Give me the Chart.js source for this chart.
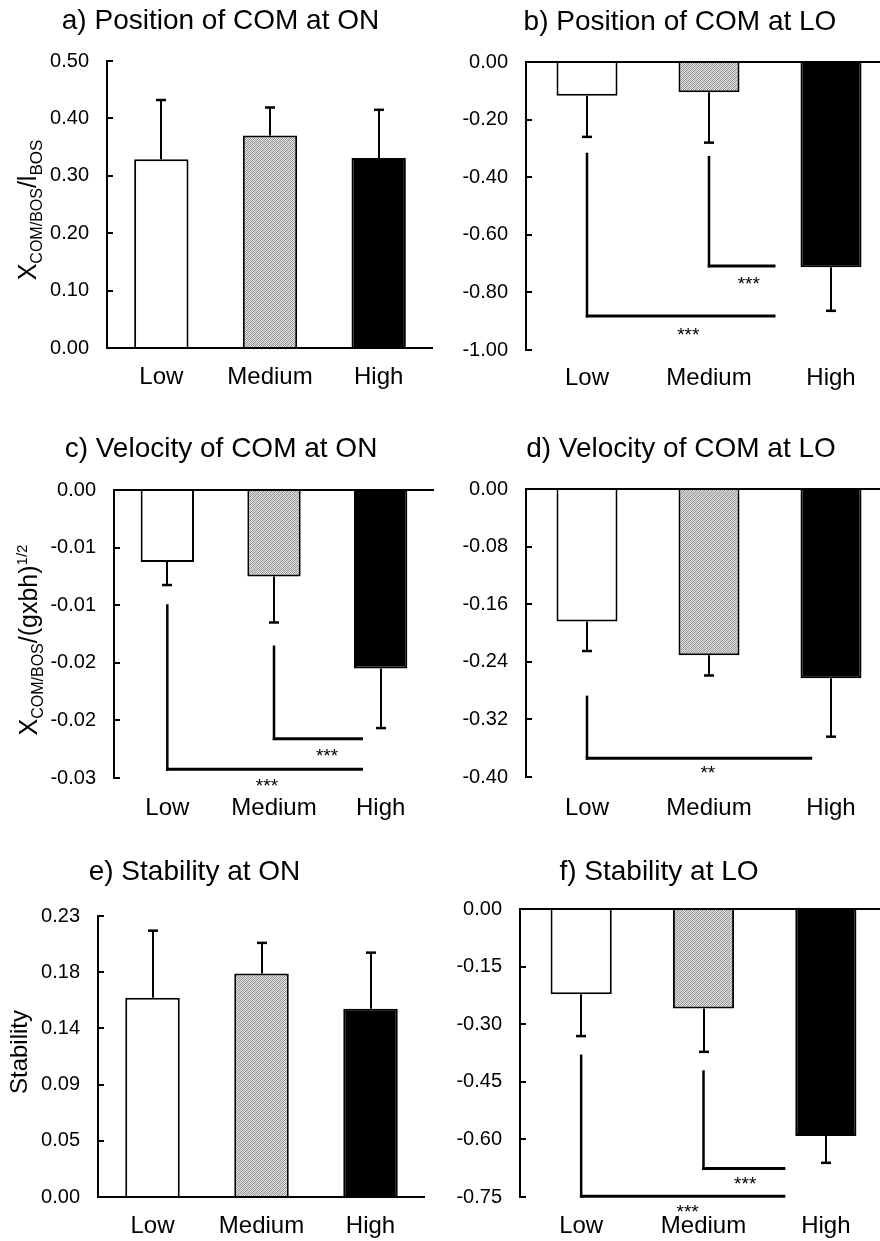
<!DOCTYPE html>
<html><head><meta charset="utf-8">
<script src="https://cdn.jsdelivr.net/npm/chart.js@4/dist/chart.umd.min.js"></script>
<style>
html,body{margin:0;padding:0;background:#fff;overflow:hidden;width:880px;height:1241px;position:relative}
canvas{position:absolute;display:block}
</style></head><body>
<canvas id="ca"></canvas><canvas id="cb"></canvas><canvas id="cc"></canvas>
<canvas id="cd"></canvas><canvas id="ce"></canvas><canvas id="cf"></canvas>
<script>
// ---------------- DATA ----------------
const categories = ['Low', 'Medium', 'High'];

// a) Position of COM at ON
const posON_mean = [0.329, 0.370, 0.331];
const posON_sd = [0.103, 0.049, 0.084];
const posON_ticks = [0, 0.1, 0.2, 0.3, 0.4, 0.5];
const posON_tickLabels = ['0.00', '0.10', '0.20', '0.30', '0.40', '0.50'];

// b) Position of COM at LO
const posLO_mean = [-0.117, -0.105, -0.713];
const posLO_sd = [0.143, 0.175, 0.151];
const posLO_ticks = [0, -0.2, -0.4, -0.6, -0.8, -1.0];
const posLO_tickLabels = ['0.00', '-0.20', '-0.40', '-0.60', '-0.80', '-1.00'];
const posLO_brackets = [
  { from: 0, to: 1.545, top: -0.315, bottom: -0.882, label: '***', lx: 0.83, ly: -0.931 },
  { from: 1, to: 1.545, top: -0.326, bottom: -0.708, label: '***', lx: 1.326, ly: -0.753 }
];

// c) Velocity of COM at ON
const velON_mean = [-0.0075, -0.0090, -0.0186];
const velON_sd = [0.0024, 0.0048, 0.0062];
const velON_ticks = [0, -0.006, -0.012, -0.018, -0.024, -0.03];
const velON_tickLabels = ['0.00', '-0.01', '-0.01', '-0.02', '-0.02', '-0.03'];
const velON_brackets = [
  { from: 0, to: 1.834, top: -0.0119, bottom: -0.0291, label: '***', lx: 0.934, ly: -0.0303 },
  { from: 1, to: 1.834, top: -0.0162, bottom: -0.0259, label: '***', lx: 1.497, ly: -0.0272 }
];

// d) Velocity of COM at LO
const velLO_mean = [-0.184, -0.231, -0.263];
const velLO_sd = [0.041, 0.028, 0.081];
const velLO_ticks = [0, -0.08, -0.16, -0.24, -0.32, -0.40];
const velLO_tickLabels = ['0.00', '-0.08', '-0.16', '-0.24', '-0.32', '-0.40'];
const velLO_brackets = [
  { from: 0, to: 1.846, top: -0.287, bottom: -0.374, label: '**', lx: 0.99, ly: -0.387 }
];

// e) Stability at ON
const stabON_mean = [0.163, 0.183, 0.154];
const stabON_sd = [0.055, 0.025, 0.046];
const stabON_ticks = [0, 0.046, 0.092, 0.138, 0.184, 0.23];
const stabON_tickLabels = ['0.00', '0.05', '0.09', '0.14', '0.18', '0.23'];

// f) Stability at LO
const stabLO_mean = [-0.222, -0.259, -0.591];
const stabLO_sd = [0.109, 0.113, 0.070];
const stabLO_ticks = [0, -0.15, -0.30, -0.45, -0.60, -0.75];
const stabLO_tickLabels = ['0.00', '-0.15', '-0.30', '-0.45', '-0.60', '-0.75'];
const stabLO_brackets = [
  { from: 0, to: 1.669, top: -0.379, bottom: -0.748, label: '***', lx: 0.87, ly: -0.776 },
  { from: 1, to: 1.669, top: -0.420, bottom: -0.676, label: '***', lx: 1.341, ly: -0.702 }
];

// ---------------- STYLE / LAYOUT ----------------
const FONT = '"Liberation Sans", Arial, Helvetica, sans-serif';
Chart.defaults.font.family = FONT;
Chart.defaults.color = '#000';

function hatchPattern() {
  const c = document.createElement('canvas');
  c.width = 4; c.height = 4;
  const g = c.getContext('2d');
  const img = g.createImageData(4, 4);
  const tone = [140, 222, 175, 222];
  for (let yy = 0; yy < 4; yy++) for (let xx = 0; xx < 4; xx++) {
    const i = (yy * 4 + xx) * 4;
    const v = tone[(xx + yy) % 4];
    img.data[i] = v; img.data[i + 1] = v; img.data[i + 2] = v; img.data[i + 3] = 255;
  }
  g.putImageData(img, 0, 0);
  return g.createPattern(c, 'repeat');
}

function drawYTitle(ctx, segs, bx, cy) {
  ctx.save();
  ctx.translate(bx, cy);
  ctx.rotate(-Math.PI / 2);
  let total = 0;
  segs.forEach(s => { ctx.font = s.size + 'px ' + FONT; s.w = ctx.measureText(s.t).width; total += s.w; });
  let x0 = -total / 2;
  ctx.textAlign = 'left';
  ctx.textBaseline = 'alphabetic';
  ctx.fillStyle = '#000';
  segs.forEach(s => { ctx.font = s.size + 'px ' + FONT; ctx.fillText(s.t, x0, s.dy); x0 += s.w; });
  ctx.restore();
}

function makePanel(id, L, mean, sd, ticks, tickLabels, brackets) {
  const cv = document.getElementById(id);
  cv.width = L.W; cv.height = L.H;
  cv.style.left = L.left + 'px'; cv.style.top = L.top + 'px';
  const A = L.area;
  const ctx0 = cv.getContext('2d');
  const pattern = hatchPattern();
  const annot = {
    id: 'annot' + id,
    afterDatasetsDraw(chart) {
      const ctx = chart.ctx, ca = chart.chartArea, x = chart.scales.x, y = chart.scales.y;
      ctx.save();
      ctx.strokeStyle = '#000';
      ctx.fillStyle = '#000';
      // zero (category) axis line
      ctx.lineWidth = 2;
      const y0 = Math.round(y.getPixelForValue(0));
      ctx.beginPath(); ctx.moveTo(ca.left, y0); ctx.lineTo(ca.right, y0); ctx.stroke();
      // inward tick marks on y axis
      y.ticks.forEach(t => {
        const py = Math.round(y.getPixelForValue(t.value));
        ctx.beginPath(); ctx.moveTo(ca.left, py); ctx.lineTo(ca.left + 6, py); ctx.stroke();
      });
      // error bars (one-sided, away from zero)
      mean.forEach((m, i) => {
        const px = Math.round(x.getPixelForValue(i));
        const e = m >= 0 ? m + sd[i] : m - sd[i];
        const p0 = y.getPixelForValue(m), p1 = y.getPixelForValue(e);
        ctx.lineWidth = 2;
        ctx.beginPath(); ctx.moveTo(px, p0); ctx.lineTo(px, p1); ctx.stroke();
        ctx.lineWidth = 2.5;
        ctx.beginPath(); ctx.moveTo(px - 5, p1); ctx.lineTo(px + 5, p1); ctx.stroke();
      });
      // significance brackets
      (brackets || []).forEach(b => {
        const xa = x.getPixelForValue(b.from), xb = x.getPixelForValue(b.to);
        const yt = y.getPixelForValue(b.top), yb = y.getPixelForValue(b.bottom);
        ctx.lineWidth = 2.5;
        ctx.beginPath(); ctx.moveTo(xa, yt); ctx.lineTo(xa, yb + 1.5); ctx.stroke();
        ctx.lineWidth = 3;
        ctx.beginPath(); ctx.moveTo(xa - 1.25, yb); ctx.lineTo(xb, yb); ctx.stroke();
        ctx.font = '19px ' + FONT;
        ctx.textAlign = 'center';
        ctx.textBaseline = 'alphabetic';
        ctx.fillText(b.label, x.getPixelForValue(b.lx), y.getPixelForValue(b.ly) + 11);
      });
      ctx.restore();
    },
    afterDraw(chart) {
      const ctx = chart.ctx;
      ctx.save();
      ctx.fillStyle = '#000';
      ctx.font = '28px ' + FONT;
      ctx.textAlign = 'center';
      ctx.textBaseline = 'alphabetic';
      ctx.fillText(L.title, L.tx, L.ty);
      ctx.restore();
      if (L.ytitle) drawYTitle(ctx, L.ytitle, L.ybx, L.yby);
    }
  };
  return new Chart(ctx0, {
    type: 'bar',
    data: {
      labels: categories,
      datasets: [{
        data: mean,
        backgroundColor: ['#ffffff', pattern, '#000000'],
        borderColor: '#000',
        borderWidth: 2,
        borderSkipped: 'start',
        categoryPercentage: 1.0,
        barPercentage: 0.5
      }]
    },
    options: {
      responsive: false,
      animation: false,
      events: [],
      layout: { padding: { left: 0, top: A.top, right: L.W - A.right, bottom: 0 } },
      plugins: { legend: { display: false }, title: { display: false }, tooltip: { enabled: false } },
      scales: {
        x: {
          type: 'category',
          offset: true,
          grid: { display: false, drawTicks: false },
          border: { display: false },
          ticks: { font: { size: 24 }, color: '#000', padding: L.xPad, maxRotation: 0, autoSkip: false },
          afterFit: s => { s.height = L.H - A.bottom; }
        },
        y: {
          min: Math.min(...ticks),
          max: Math.max(...ticks),
          afterBuildTicks: s => { s.ticks = ticks.map(v => ({ value: v })); },
          grid: { display: false, drawTicks: false },
          border: { display: true, color: '#000', width: 2 },
          ticks: {
            font: { size: 20 }, color: '#000', padding: 18,
            callback: (v, i) => tickLabels[i]
          },
          afterFit: s => { s.width = A.left; }
        }
      }
    },
    plugins: [annot]
  });
}

const segsA = [
  { t: 'X', size: 25, dy: 0 }, { t: 'COM/BOS', size: 16, dy: 6 },
  { t: '/l', size: 25, dy: 0 }, { t: 'BOS', size: 17, dy: 6 }
];
const segsC = [
  { t: 'X', size: 25, dy: 0 }, { t: 'COM/BOS', size: 16, dy: 6 },
  { t: '/(gxbh)', size: 25, dy: 0 }, { t: '1/2', size: 15, dy: -10 }
];
const segsE = [{ t: 'Stability', size: 24, dy: 0 }];

makePanel('ca', { left: 0, top: 0, W: 440, H: 410, area: { left: 107, right: 433, top: 61, bottom: 348 }, xPad: 15,
  title: 'a) Position of COM at ON', tx: 220.5, ty: 28.5, ytitle: segsA, ybx: 36, yby: 210 },
  posON_mean, posON_sd, posON_ticks, posON_tickLabels, null);
makePanel('cb', { left: 440, top: 0, W: 460, H: 410, area: { left: 86, right: 452, top: 62, bottom: 350 }, xPad: 14,
  title: 'b) Position of COM at LO', tx: 240, ty: 29.5 },
  posLO_mean, posLO_sd, posLO_ticks, posLO_tickLabels, posLO_brackets);
makePanel('cc', { left: 0, top: 410, W: 440, H: 410, area: { left: 114, right: 434, top: 80, bottom: 368 }, xPad: 16,
  title: 'c) Velocity of COM at ON', tx: 221, ty: 46.5, ytitle: segsC, ybx: 37, yby: 230 },
  velON_mean, velON_sd, velON_ticks, velON_tickLabels, velON_brackets);
makePanel('cd', { left: 440, top: 410, W: 460, H: 410, area: { left: 86, right: 452, top: 79, bottom: 367 }, xPad: 17,
  title: 'd) Velocity of COM at LO', tx: 241, ty: 46.5 },
  velLO_mean, velLO_sd, velLO_ticks, velLO_tickLabels, velLO_brackets);
makePanel('ce', { left: 0, top: 820, W: 440, H: 421, area: { left: 98, right: 425, top: 96, bottom: 377 }, xPad: 15,
  title: 'e) Stability at ON', tx: 194.5, ty: 60, ytitle: segsE, ybx: 27, yby: 232 },
  stabON_mean, stabON_sd, stabON_ticks, stabON_tickLabels, null);
makePanel('cf', { left: 440, top: 820, W: 460, H: 421, area: { left: 80, right: 447, top: 89, bottom: 377 }, xPad: 15,
  title: 'f) Stability at LO', tx: 219, ty: 60 },
  stabLO_mean, stabLO_sd, stabLO_ticks, stabLO_tickLabels, stabLO_brackets);
</script>
</body></html>
